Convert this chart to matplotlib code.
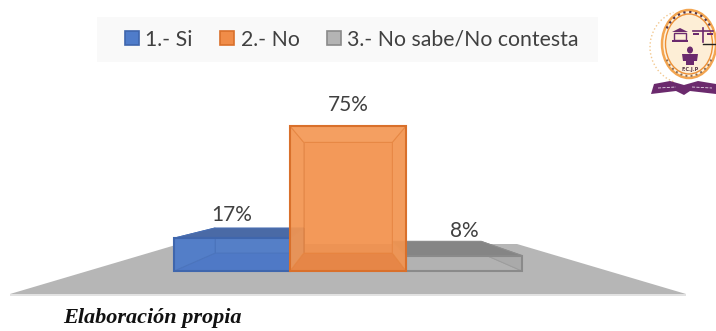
import numpy as np
import matplotlib
matplotlib.use("Agg")
import matplotlib.pyplot as plt
from matplotlib.patches import Polygon, Rectangle, Ellipse, Arc
from matplotlib.lines import Line2D

categories = ["1.- Si", "2.- No", "3.- No sabe/No contesta"]
values = [17, 75, 8]
value_labels = ["17%", "75%", "8%"]
caption = "Elaboración propia"

W, H = 716, 331
fig = plt.figure(figsize=(W / 100, H / 100), dpi=100)
fig.patch.set_facecolor("white")

# pixel layer for decoration
bg = fig.add_axes([0, 0, 1, 1], zorder=0)
bg.set_xlim(0, W); bg.set_ylim(H, 0); bg.axis("off")

# data layer: 1 category = 116 px, 1 percent = 1.933 px
ax = fig.add_axes([0, 0, 1, 1], zorder=1)
ax.patch.set_alpha(0)
ux, uy, x0px, y0px = 116.0, 1.933, 232.0, 271.0
ax.set_xlim(-x0px / ux, (W - x0px) / ux)
ax.set_ylim(-(H - y0px) / uy, y0px / uy)
ax.axis("off")

# floor
bg.add_patch(Polygon([(10, 294), (179, 244), (517, 244), (686, 294)], closed=True,
                     fc="#b6b6b6", ec="none"))
bg.add_patch(Rectangle((10, 294), 676, 1.5, fc="#e2e2e2", ec="none"))

# perspective parameters
vp = np.array([1.0, 39.3])
k = 0.764


def back(p):
    return vp + (np.array(p, float) - vp) * k


styles = {
    0: dict(edge="#3f66ad", inner="#4a70b4", front="#4f7cca", backc="#5a82c6", top="#4a6aa6", side="#5680c8", floor="#4f78c4", z=3),
    1: dict(edge="#d9702b", inner="#e0823f", front="#f08c48", backc="#f49650", top="#f6a25e", side="#f49c58", floor="#e67c38", z=5),
    2: dict(edge="#8a8a8a", inner="#8e8e8e", front="#b4b4b4", backc="#a8a8a8", top="#858585", side="#a4a4a4", floor="#b2b2b2", z=2),
}

bars = ax.bar(range(3), values, width=1.0, zorder=0, alpha=0)

for i, v in enumerate(values):
    s = styles[i]
    l, r = i - 0.5, i + 0.5
    fl, fr, tl, tr = (l, 0), (r, 0), (l, v), (r, v)
    bl, br, btl, btr = back(fl), back(fr), back(tl), back(tr)
    z = s["z"]
    a = 0.88 if i == 1 else 1.0
    faces = [
        ([bl, br, btr, btl], s["backc"]),
        ([fl, fr, br, bl], s["floor"]),
        ([fl, bl, btl, tl], s["side"]),
        ([fr, br, btr, tr], s["side"]),
        ([tl, tr, btr, btl], s["top"]),
    ]
    for pts, c in faces:
        ax.add_patch(Polygon(pts, closed=True, fc=c, ec=s["inner"], lw=0.7, alpha=a, zorder=z))
    ax.add_patch(Rectangle(fl, 1.0, v, fc=s["front"], ec="none", alpha=0.4, zorder=z + 0.1))
    ax.add_patch(Rectangle(fl, 1.0, v, fc="none", ec=s["edge"], lw=1.5, zorder=z + 0.2))

font = "Lato"
offsets = [23, 21, 25]
for i, (v, t) in enumerate(zip(values, value_labels)):
    ax.annotate(t, (i, v), xytext=(0, offsets[i] * 0.72), textcoords="offset points",
                ha="center", va="center", fontsize=15, color="#404040", family=font, zorder=10)

# legend
bg.add_patch(Rectangle((97, 17), 501, 45, fc="#f9f9f9", ec="none"))
handles = [Rectangle((0, 0), 1, 1, fc=styles[i]["front"], ec=styles[i]["edge"], lw=1.2) for i in range(3)]
leg = ax.legend(handles, categories, ncols=3, frameon=False, loc="center",
                bbox_to_anchor=(352 / W, 1 - 39.5 / H), prop=dict(family=font, size=15.3),
                labelcolor="#404040", handlelength=0.65, handleheight=0.65, handletextpad=0.3,
                columnspacing=1.3, borderpad=0, borderaxespad=0)

# caption
bg.text(63, 318, caption, family="Liberation Serif", style="italic", weight="bold",
        fontsize=16, color="#111111", va="center", ha="left")

# emblem
P = "#6b2a6d"
bg.add_patch(Arc((686, 47), 72, 74, theta1=110, theta2=250, color="#f3c890", lw=1.0, ls=":"))
bg.add_patch(Ellipse((689, 44), 54, 68, fc="#fdf3e2", ec="#f3a550", lw=1.8))
bg.add_patch(Ellipse((689, 44), 47, 60, fc="#fdeed6", ec="#ee9035", lw=1.0))
bg.add_patch(Arc((689, 44), 51, 64, theta1=215, theta2=325, color="#553344", lw=1.6, ls=":"))
bg.add_patch(Arc((689, 44), 51, 64, theta1=35, theta2=145, color="#8a6a50", lw=1.4, ls=":"))
# building
bg.add_patch(Polygon([(672, 32), (680, 28), (688, 32)], closed=True, fc=P, ec="none"))
bg.add_patch(Rectangle((674, 33), 12, 7, fc="none", ec=P, lw=1.0))
bg.add_patch(Rectangle((672, 40), 16, 2, fc=P, ec="none"))
# scales
bg.add_line(Line2D([703, 703], [28, 42], color=P, lw=1.2))
bg.add_line(Line2D([693, 713], [31, 31], color=P, lw=1.2))
bg.add_patch(Rectangle((693, 33), 6, 2, fc=P, ec="none"))
bg.add_patch(Rectangle((707, 33), 6, 2, fc=P, ec="none"))
bg.add_line(Line2D([703, 716], [44, 44], color="#222222", lw=1.0))
# person
bg.add_patch(Ellipse((690, 50), 6, 7, fc=P, ec="none"))
bg.add_patch(Polygon([(682, 54), (698, 54), (697, 61), (694, 61), (694, 65), (686, 65), (686, 61), (683, 61)],
                     closed=True, fc=P, ec="none"))
bg.text(690, 69, "F.C.J.P", fontsize=3.5, color="#553344", ha="center", va="center", family="DejaVu Sans", weight="bold")
# book
bg.add_patch(Polygon([(651, 94), (654, 84), (670, 81), (684, 85), (698, 81), (716, 84), (716, 94), (690, 91), (684, 95), (676, 91)],
                     closed=True, fc=P, ec="none"))
bg.add_line(Line2D([658, 676], [88, 87], color="#e8d8e8", lw=0.6, ls="--"))
bg.add_line(Line2D([692, 712], [87, 88], color="#e8d8e8", lw=0.6, ls="--"))

fig.savefig("out.png", dpi=100, facecolor="white")
